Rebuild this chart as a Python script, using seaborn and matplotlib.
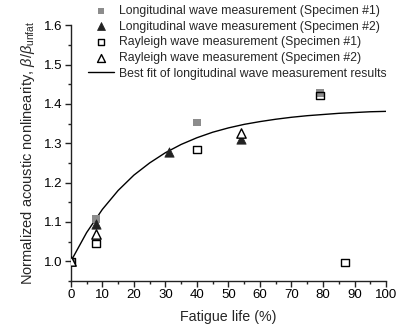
import numpy as np
import pandas as pd
import matplotlib
matplotlib.use("Agg")
import matplotlib.pyplot as plt
from matplotlib.ticker import MultipleLocator
import seaborn as sns

# measured points (fatigue life %, beta/beta_unfat)
long1_x = [0, 8, 40, 79]
long1_y = [1.0, 1.107, 1.353, 1.428]
long2_x = [0, 8, 31, 54]
long2_y = [1.0, 1.095, 1.279, 1.312]
rayl1_x = [0, 8, 40, 79, 87]
rayl1_y = [1.0, 1.045, 1.284, 1.422, 0.997]
rayl2_x = [0, 8, 54]
rayl2_y = [1.0, 1.07, 1.327]

# best-fit curve
fit_x = [0, 5, 10, 15, 20, 25, 30, 35, 40, 45, 50, 55, 60, 65, 70, 75, 80, 85, 90, 95, 100]
fit_y = [1.0, 1.073, 1.132, 1.180, 1.219, 1.250, 1.276, 1.297, 1.314, 1.328, 1.339,
         1.348, 1.355, 1.361, 1.366, 1.370, 1.373, 1.376, 1.378, 1.380, 1.381]

labels = ["Longitudinal wave measurement (Specimen #1)",
          "Longitudinal wave measurement (Specimen #2)",
          "Rayleigh wave measurement (Specimen #1)",
          "Rayleigh wave measurement (Specimen #2)",
          "Best fit of longitudinal wave measurement results"]

sns.set_style("ticks")
plt.rcParams["font.family"] = ["Liberation Sans", "DejaVu Sans"]
plt.rcParams["mathtext.fontset"] = "custom"
plt.rcParams["mathtext.rm"] = "Liberation Sans"
plt.rcParams["mathtext.it"] = "Liberation Sans:italic"

fig = plt.figure(figsize=(3.98, 3.31), dpi=100)
ax = fig.add_axes([0.178, 0.151, 0.792, 0.773])

sns.scatterplot(x=long1_x, y=long1_y, ax=ax, marker="s", s=30, color="#8c8c8c",
                edgecolor="none", label=labels[0], zorder=3)
sns.scatterplot(x=long2_x, y=long2_y, ax=ax, marker="^", s=45, color="#222222",
                edgecolor="#222222", label=labels[1], zorder=4)
sns.scatterplot(x=rayl1_x, y=rayl1_y, ax=ax, marker="s", s=28, facecolor="none",
                edgecolor="black", linewidth=1.0, label=labels[2], zorder=5)
sns.scatterplot(x=rayl2_x, y=rayl2_y, ax=ax, marker="^", s=45, facecolor="white",
                edgecolor="black", linewidth=1.0, label=labels[3], zorder=5)
sns.lineplot(x=fit_x, y=fit_y, ax=ax, color="black", linewidth=1.0,
             label=labels[4], zorder=2)

ax.set_xlim(0, 100)
ax.set_ylim(0.95, 1.6)
ax.xaxis.set_major_locator(MultipleLocator(10))
ax.xaxis.set_minor_locator(MultipleLocator(5))
ax.yaxis.set_major_locator(MultipleLocator(0.1))
ax.yaxis.set_minor_locator(MultipleLocator(0.05))
ax.yaxis.set_major_formatter(matplotlib.ticker.FormatStrFormatter("%.1f"))
ax.tick_params(which="major", length=4, width=1, labelsize=9.5, pad=2, colors="#222222")
ax.tick_params(which="minor", length=2, width=1, colors="#222222")
for lab in ax.get_xticklabels() + ax.get_yticklabels():
    lab.set_color("black")
sns.despine(ax=ax)
for sp in ["left", "bottom"]:
    ax.spines[sp].set_color("#222222")
    ax.spines[sp].set_linewidth(1)

ax.set_xlabel("Fatigue life (%)", fontsize=10.3, labelpad=6)
ax.set_ylabel(r"Normalized acoustic nonlinearity, $\beta/\beta_{\mathrm{unfat}}$",
              fontsize=10.5, labelpad=5)

handles, labs = ax.get_legend_handles_labels()
leg = ax.legend(handles, labs, loc="upper left", bbox_to_anchor=(0.221, 0.985),
                bbox_transform=fig.transFigure, frameon=False, fontsize=8.8,
                handlelength=2.1, handletextpad=0.45, labelspacing=0.3,
                borderaxespad=0.0, borderpad=0.0, markerscale=0.85)

fig.savefig("out.png", dpi=100)
